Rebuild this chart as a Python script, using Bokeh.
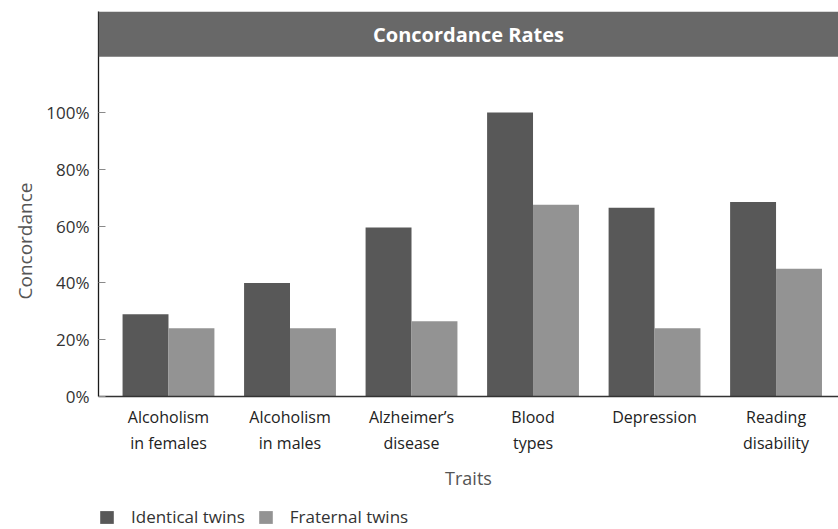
from bokeh.plotting import figure
from bokeh.layouts import column
from bokeh.models import (ColumnDataSource, Range1d, FixedTicker, PrintfTickFormatter,
                          BoxAnnotation, Label, Legend, LegendItem, Title)
from bokeh.transform import dodge
from bokeh.embed import file_html
from bokeh.resources import INLINE

# ---- data ----
categories = ["Alcoholism\nin females", "Alcoholism\nin males", "Alzheimer\u2019s\ndisease",
              "Blood\ntypes", "Depression", "Reading\ndisability"]
identical = [29, 40, 59.5, 100, 66.5, 68.5]
fraternal = [24, 24, 26.5, 67.5, 24, 45]
series_names = ["Identical twins", "Fraternal twins"]
y_ticks = [0, 20, 40, 60, 80, 100]
title_text = "Concordance Rates"
x_title = "Traits"
y_title = "Concordance"

# ---- layout constants ----
FONT = "Open Sans"
C_IDENT = "#585858"
C_FRAT = "#939393"
C_BANNER = "#686868"
X0, X1 = -0.576, 5.514
Y0, Y1 = 0, 135.6
BANNER_BOTTOM = 119.7
BAR_W = 0.378
LEFT = 98
FRAME_W = 740
H2 = 72

idx = list(range(len(categories)))
src = ColumnDataSource(dict(x=idx, identical=identical, fraternal=fraternal))

p = figure(frame_width=FRAME_W, frame_height=385, output_backend="svg", toolbar_location=None,
           x_range=Range1d(X0, X1), y_range=Range1d(Y0, Y1),
           min_border_left=LEFT, min_border_right=0, min_border_top=11, min_border_bottom=0)
p.outline_line_color = None
p.grid.visible = False
p.background_fill_color = "white"
p.border_fill_color = "white"

r1 = p.vbar(x=dodge("x", -BAR_W / 2, range=p.x_range), top="identical", width=BAR_W,
            source=src, fill_color=C_IDENT, line_color=None)
r2 = p.vbar(x=dodge("x", BAR_W / 2, range=p.x_range), top="fraternal", width=BAR_W,
            source=src, fill_color=C_FRAT, line_color=None)

# banner with title
p.add_layout(BoxAnnotation(bottom=BANNER_BOTTOM, fill_color=C_BANNER, fill_alpha=1,
                           line_color=None))
p.add_layout(Label(x=(X0 + X1) / 2, y=(BANNER_BOTTOM + Y1) / 2, text=title_text,
                   text_align="center", text_baseline="middle", text_color="white",
                   text_font=FONT, text_font_style="bold", text_font_size="20px"))

# y title (left panel)
p.add_layout(Title(text=y_title, align="left", offset=97, text_font=FONT,
                   text_font_size="19px", text_font_style="normal",
                   text_color="#555555", standoff=12), "left")

# y axis
ya = p.yaxis[0]
ya.ticker = FixedTicker(ticks=y_ticks)
ya.formatter = PrintfTickFormatter(format="%d%%")
ya.axis_line_color = "#1a1a1a"
ya.axis_line_width = 1.3
ya.major_tick_in = 7
ya.major_tick_out = 0
ya.major_tick_line_color = "#8a8a8a"
ya.minor_tick_line_color = None
ya.major_label_text_font = FONT
ya.major_label_text_font_size = "17px"
ya.major_label_text_color = "#333333"
ya.major_label_standoff = 9

# x axis
xa = p.xaxis[0]
xa.ticker = FixedTicker(ticks=idx)
xa.major_label_overrides = {i: c for i, c in zip(idx, categories)}
xa.axis_line_color = "#333333"
xa.axis_line_width = 1.5
xa.major_tick_line_color = None
xa.minor_tick_line_color = None
xa.major_label_text_font = FONT
xa.major_label_text_font_size = "16px"
xa.major_label_text_color = "#222222"
xa.major_label_text_line_height = 1.2
xa.major_label_standoff = 3

# ---- lower strip: x title and legend ----
p2 = figure(frame_width=FRAME_W, frame_height=H2, output_backend="svg", toolbar_location=None,
            x_range=Range1d(X0, X1), y_range=Range1d(0, H2),
            min_border_left=LEFT, min_border_right=0, min_border_top=0, min_border_bottom=0)
p2.axis.visible = False
p2.grid.visible = False
p2.outline_line_color = None
p2.background_fill_color = "white"
p2.border_fill_color = "white"

# legend proxies: the same bars, placed on ranges that keep them entirely out of view
p2.extra_x_ranges = {"proxy": Range1d(1000, 1001)}
p2.extra_y_ranges = {"proxy": Range1d(1000, 1001)}
l1 = p2.vbar(x="x", top="identical", width=BAR_W, source=src, fill_color=C_IDENT,
             line_color=None, x_range_name="proxy", y_range_name="proxy")
l2 = p2.vbar(x="x", top="fraternal", width=BAR_W, source=src, fill_color=C_FRAT,
             line_color=None, x_range_name="proxy", y_range_name="proxy")
p2.add_layout(BoxAnnotation(fill_color="white", fill_alpha=1, line_color=None))

p2.add_layout(Label(x=(X0 + X1) / 2, y=51, text=x_title, text_align="center",
                    text_baseline="middle", text_color="#555555", text_font=FONT,
                    text_font_size="18px"))

legend = Legend(items=[LegendItem(label=series_names[0], renderers=[l1]),
                       LegendItem(label=series_names[1], renderers=[l2])],
                orientation="horizontal", location="bottom_left",
                glyph_width=17, glyph_height=16, label_height=16,
                label_standoff=16, spacing=12, padding=0, margin=0,
                border_line_color=None, background_fill_alpha=0,
                label_text_font=FONT, label_text_font_size="17px",
                label_text_color="#333333")
p2.add_layout(legend, "center")

layout = column(p, p2, spacing=0)
open("out.html", "w").write(file_html(layout, INLINE))
